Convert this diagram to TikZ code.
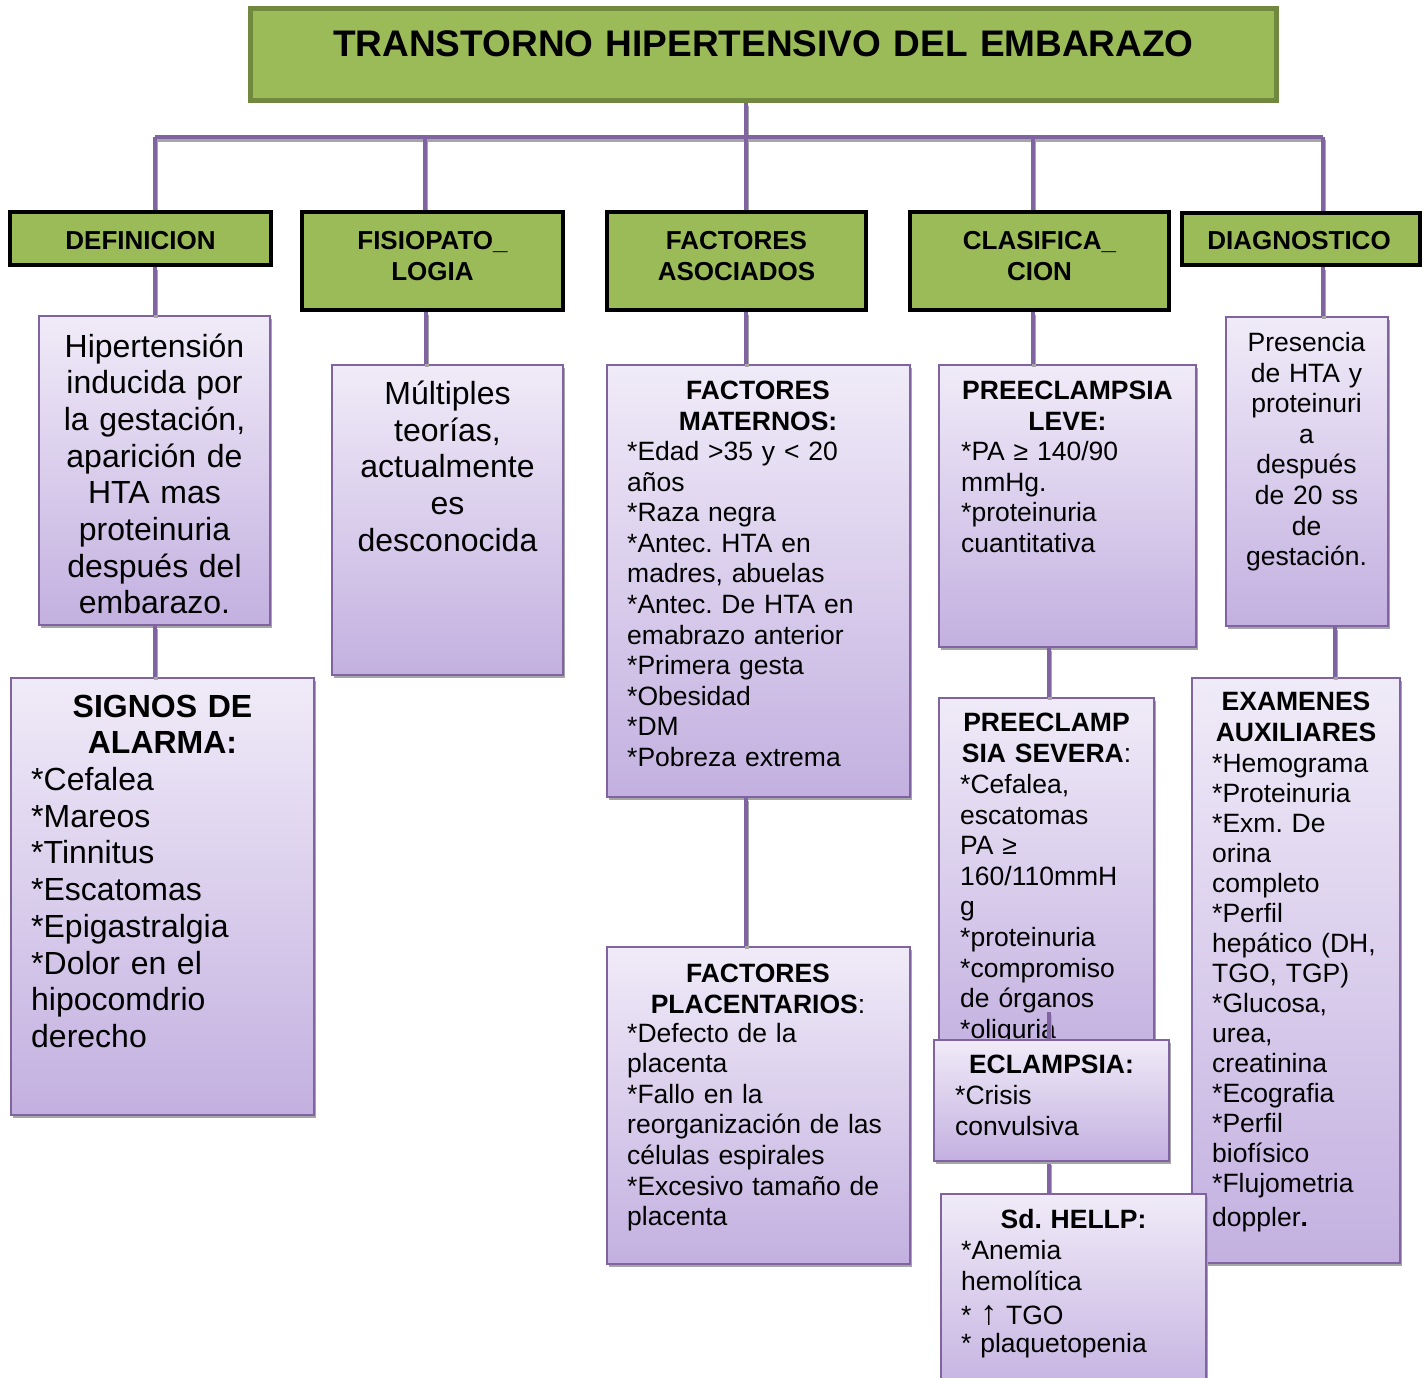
\documentclass[tikz,border=0pt]{standalone}
\usepackage{fontspec}
\setmainfont{Liberation Sans}
\usetikzlibrary{fit,shadows}
\definecolor{grn}{HTML}{9BBB59}
\definecolor{dgrn}{HTML}{71893F}
\definecolor{pline}{HTML}{8064A2}
\definecolor{ltop}{HTML}{F0EBF8}
\definecolor{lbot}{HTML}{C3B0E0}
\definecolor{shd}{HTML}{A6A6A6}
\newcommand\myTitle{\fontsize{37}{40}\selectfont\bfseries}
\newcommand\myCat{\fontsize{26}{31.5}\selectfont\bfseries}
\newcommand\myBig{\fontsize{32}{36.7}\selectfont}
\newcommand\myMid{\fontsize{26.5}{30.6}\selectfont}
\newcommand\nl{\\{}}
\frenchspacing
\begin{document}
\begin{tikzpicture}[x=1pt,y=-1pt,
  titlebox/.style={draw=dgrn, line width=4.5pt, fill=grn, inner sep=0pt},
  catbox/.style={draw=black, line width=4.5pt, fill=grn, inner sep=0pt},
  lilbox/.style={draw=pline, line width=2pt, top color=ltop, bottom color=lbot, inner sep=0pt,
     drop shadow={shadow xshift=2pt, shadow yshift=-3pt, fill=shd, opacity=1}},
  link/.style={line width=4pt, draw=pline,
     preaction={draw=shd, line width=4pt, transform canvas={xshift=1pt,yshift=-3pt}}},
  ltxt/.style={inner sep=0pt, anchor=base west, align=left, text width=330pt},
  ctxt/.style={inner sep=0pt, anchor=base, align=center, text width=300pt}
]
\useasboundingbox (0,0) rectangle (1427,1378);
\clip (0,0) rectangle (1427,1378);
\fill[white] (0,0) rectangle (1427,1378);

% connector x positions
\coordinate (xtrunk) at (746,137);
\coordinate (xdef) at (155,137);
\coordinate (xfis) at (425,137);
\coordinate (xfac) at (746,137);
\coordinate (xcla) at (1033,137);
\coordinate (xdia) at (1323,137);
\coordinate (xfis2) at (426,0);
\coordinate (xsev) at (1049,0);
\coordinate (xdia2) at (1335,0);

% ---------- title and category boxes ----------
\node[titlebox, fit={(250.5,8.5) (1276.5,100.5)}] (title) {};
\node[catbox, fit={(10,212) (271,265)}] (def) {};
\node[catbox, fit={(302,212) (563,310)}] (fis) {};
\node[catbox, fit={(607,212) (866,310)}] (fac) {};
\node[catbox, fit={(910,212) (1169,310)}] (cla) {};
\node[catbox, fit={(1182,213) (1420,265)}] (dia) {};

% ---------- upper connectors ----------
\draw[link] (title.south -| xtrunk) -- (xtrunk);
\draw[link] (xdef) -- (xdia);
\draw[link] (xdef) -- (xdef |- def.north);
\draw[link] (xfis) -- (xfis |- fis.north);
\draw[link] (xfac) -- (xfac |- fac.north);
\draw[link] (xcla) -- (xcla |- cla.north);
\draw[link] (xdia) -- (xdia |- dia.north);
% redraw boxes over line ends
\node[titlebox, fit={(250.5,8.5) (1276.5,100.5)}] (title2) {};
\node[catbox, fit={(10,212) (271,265)}] (def2) {};
\node[catbox, fit={(302,212) (563,310)}] (fis2) {};
\node[catbox, fit={(607,212) (866,310)}] (fac2) {};
\node[catbox, fit={(910,212) (1169,310)}] (cla2) {};
\node[catbox, fit={(1182,213) (1420,265)}] (dia2) {};

% ---------- texts of title and categories ----------
\node[ctxt, font=\myTitle, text width=1000pt] (titleT) at (763.5,57) {TRANSTORNO HIPERTENSIVO DEL EMBARAZO};
\node[ctxt, font=\myCat, text width=250pt] (defT) at (140.5,249) {DEFINICION};
\node[ctxt, font=\myCat, text width=250pt] (fisT) at (432.5,249) {FISIOPATO\_\nl LOGIA};
\node[ctxt, font=\myCat, text width=250pt] (facT) at (736.5,249) {FACTORES\nl ASOCIADOS};
\node[ctxt, font=\myCat, text width=250pt] (claT) at (1039.5,249) {CLASIFICA\_\nl CION};
\node[ctxt, font=\myCat, text width=250pt] (diaT) at (1299,249) {DIAGNOSTICO};

% ---------- content boxes ----------
\node[lilbox, fit={(39,316) (270,625)}] (defc) {};
\node[lilbox, fit={(11,678) (314,1115)}] (sig) {};
\node[lilbox, fit={(332,365) (563,675)}] (fisc) {};
\node[lilbox, fit={(607,365) (910,797)}] (mat) {};
\node[lilbox, fit={(607,947) (910,1264)}] (pla) {};
\node[lilbox, fit={(939,365) (1196,647)}] (lev) {};
\node[lilbox, fit={(1226,317) (1388,626)}] (diac) {};
\node[lilbox, fit={(1192,678) (1400,1263)}] (exa) {};
\node[lilbox, fit={(939,698) (1154,1060)}] (sev) {};

% ---------- lower connectors ----------
\draw[link] (def.south -| defc.north) -- (defc.north);
\draw[link] (defc.south) -- (defc.south |- sig.north);
\draw[link] (fis.south -| xfis2) -- (fisc.north -| xfis2);
\draw[link] (fac.south -| xfac) -- (mat.north -| xfac);
\draw[link] (mat.south -| xfac) -- (pla.north -| xfac);
\draw[link] (cla.south -| xcla) -- (lev.north -| xcla);
\draw[link] (lev.south -| xsev) -- (sev.north -| xsev);
\draw[link] (dia.south -| xdia) -- (diac.north -| xdia);
\draw[link] (diac.south -| xdia2) -- (exa.north -| xdia2);

% ---------- content texts ----------
\node[ctxt, font=\myBig, text width=240pt] (defcT) at (154.5,357)
  {Hipertensión\nl inducida por\nl la gestación,\nl aparición de\nl HTA mas\nl proteinuria\nl después del\nl embarazo.};
\node[ctxt, font=\myBig\bfseries, text width=290pt] (sigT) at (162.5,717) {SIGNOS DE\nl ALARMA:};
\node[ltxt, font=\myBig] (sigI) at (31,790.5)
  {*Cefalea\nl *Mareos\nl *Tinnitus\nl *Escatomas\nl *Epigastralgia\nl *Dolor en el\nl hipocomdrio\nl derecho};
\node[ctxt, font=\myBig, text width=230pt] (fiscT) at (447.5,404.5)
  {Múltiples\nl teorías,\nl actualmente\nl es\nl desconocida};
\node[ctxt, font=\myMid\bfseries, text width=290pt] (matT) at (758,399.5) {FACTORES\nl MATERNOS:};
\node[ltxt, font=\myMid] (matI) at (627,460.5)
  {*Edad >35 y < 20\nl años\nl *Raza negra\nl *Antec. HTA en\nl madres, abuelas\nl *Antec. De HTA en\nl emabrazo anterior\nl *Primera gesta\nl *Obesidad\nl *DM\nl *Pobreza extrema};
\node[ctxt, font=\myMid, text width=290pt] (plaT) at (758,982.5) {\textbf{FACTORES}\nl \textbf{PLACENTARIOS}:};
\node[ltxt, font=\myMid] (plaI) at (627,1042)
  {*Defecto de la\nl placenta\nl *Fallo en la\nl reorganización de las\nl células espirales\nl *Excesivo tamaño de\nl placenta};
\node[ctxt, font=\myMid\bfseries, text width=250pt] (levT) at (1067.5,399.5) {PREECLAMPSIA\nl LEVE:};
\node[ltxt, font=\myMid] (levI) at (961,460.5)
  {*PA ≥ 140/90\nl mmHg.\nl *proteinuria\nl cuantitativa};
\node[ctxt, font=\myMid, text width=160pt] (diacT) at (1306.5,351.5)
  {Presencia\nl de HTA y\nl proteinuri\nl a\nl después\nl de 20 ss\nl de\nl gestación.};
\node[ctxt, font=\myMid\bfseries, text width=200pt] (exaT) at (1296,710.6) {EXAMENES\nl AUXILIARES};
\node[ltxt, font=\fontsize{26.5}{30.05}\selectfont] (exaI) at (1212,772)
  {*Hemograma\nl *Proteinuria\nl *Exm. De\nl orina\nl completo\nl *Perfil\nl hepático (DH,\nl TGO, TGP)\nl *Glucosa,\nl urea,\nl creatinina\nl *Ecografia\nl *Perfil\nl biofísico\nl *Flujometria\\[4pt]doppler\textbf{.}};
\node[ctxt, font=\myMid, text width=210pt] (sevT) at (1046.5,731.5) {\textbf{PREECLAMP}\nl \textbf{SIA SEVERA}:};
\node[ltxt, font=\myMid] (sevI) at (960,793.5)
  {*Cefalea,\nl escatomas\nl PA ≥\nl 160/110mmH\nl g\nl *proteinuria\nl *compromiso\nl de órganos\nl *oliguria};

% connector over the severe box, then eclampsia and HELLP
\coordinate (sevend) at (1049,1012);
\coordinate (heltop) at (1049,1194);
\node[lilbox, fit={(934,1040) (1169,1161)}] (ecl) {};
\draw[link] (sevend) -- (sevend |- ecl.north);
\draw[link] (ecl.south -| xsev) -- (heltop);
\node[lilbox, fit={(934,1040) (1169,1161)}] (ecl2) {};
\node[ctxt, font=\myMid\bfseries, text width=230pt] (eclT) at (1051.5,1073.5) {ECLAMPSIA:};
\node[ltxt, font=\myMid] (eclI) at (955,1104.5) {*Crisis\nl convulsiva};
\node[lilbox, fit={(941,1194) (1206,1400)}] (hel) {};
\node[ctxt, font=\myMid\bfseries, text width=260pt] (helT) at (1073.5,1228.5) {Sd. HELLP:};
\node[ltxt, font=\myMid] (helI) at (961,1259.5)
  {*Anemia\nl hemolítica\\[4pt]* {\fontsize{34}{30}\selectfont ↑} TGO\\[-3pt]* plaquetopenia};
\end{tikzpicture}
\end{document}
